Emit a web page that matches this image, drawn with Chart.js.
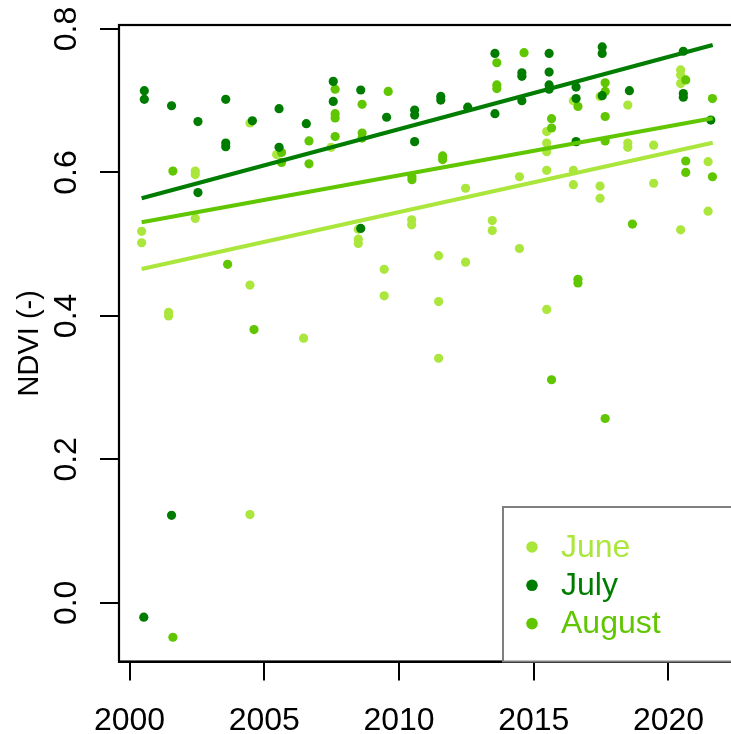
<!DOCTYPE html>
<html>
<head>
<meta charset="utf-8">
<script src="https://cdn.jsdelivr.net/npm/chart.js@4.4.1/dist/chart.umd.min.js"></script>
<style>
  html, body { margin: 0; padding: 0; overflow: hidden; background: #fff; }
  canvas { display: block; }
</style>
</head>
<body>
<canvas id="ndvi" width="750" height="734"></canvas>
<script>
const juneDates = [2000.45, 2000.45, 2001.45, 2001.45, 2002.44, 2002.44, 2002.44, 2004.47, 2004.47, 2004.47,
  2005.46, 2006.46, 2007.48, 2008.49, 2008.49, 2008.49, 2009.45, 2009.45, 2010.47, 2010.47,
  2011.47, 2011.47, 2011.47, 2012.47, 2012.47, 2013.46, 2013.46, 2014.47, 2014.47,
  2015.48, 2015.48, 2015.48, 2015.48, 2015.48, 2016.47, 2016.47, 2016.47, 2017.46, 2017.46, 2017.46,
  2018.49, 2018.49, 2018.49, 2019.45, 2019.45, 2020.45, 2020.45, 2020.45, 2020.45, 2021.47, 2021.47];
const juneNdvi = [0.518, 0.502, 0.405, 0.400, 0.602, 0.597, 0.536, 0.669, 0.443, 0.123,
  0.625, 0.369, 0.635, 0.521, 0.507, 0.501, 0.465, 0.428, 0.534, 0.527,
  0.484, 0.420, 0.341, 0.578, 0.475, 0.533, 0.519, 0.594, 0.494,
  0.657, 0.641, 0.629, 0.603, 0.409, 0.700, 0.603, 0.583, 0.706, 0.581, 0.564,
  0.694, 0.641, 0.635, 0.638, 0.585, 0.743, 0.736, 0.724, 0.520, 0.615, 0.546];

const julyDates = [2000.55, 2000.55, 2000.53, 2001.56, 2001.56, 2002.54, 2002.54, 2003.57, 2003.57, 2003.57,
  2004.56, 2005.55, 2005.55, 2006.56, 2007.56, 2007.56, 2008.58, 2008.58, 2009.54,
  2010.58, 2010.58, 2010.58, 2011.55, 2011.55, 2012.55, 2013.56, 2013.56, 2014.56, 2014.56, 2014.56,
  2015.57, 2015.57, 2015.57, 2015.57, 2016.57, 2016.57, 2016.57, 2017.54, 2017.54, 2017.54,
  2018.55, 2020.55, 2020.55, 2020.55, 2021.57];
const julyNdvi = [0.714, 0.702, -0.020, 0.693, 0.122, 0.671, 0.572, 0.702, 0.641, 0.636,
  0.672, 0.689, 0.635, 0.668, 0.727, 0.699, 0.715, 0.522, 0.677,
  0.687, 0.680, 0.643, 0.706, 0.701, 0.691, 0.766, 0.682, 0.739, 0.734, 0.700,
  0.766, 0.740, 0.722, 0.716, 0.719, 0.703, 0.643, 0.775, 0.766, 0.707,
  0.714, 0.769, 0.710, 0.705, 0.673];

const augustDates = [2001.61, 2001.61, 2003.64, 2004.62, 2005.64, 2005.64, 2006.66, 2006.66,
  2007.63, 2007.63, 2007.63, 2007.63, 2008.63, 2008.63, 2008.63, 2009.60, 2010.48, 2010.48,
  2011.62, 2011.62, 2013.63, 2013.63, 2013.63, 2014.64, 2015.66, 2015.66, 2015.66,
  2016.64, 2016.64, 2016.64, 2017.65, 2017.65, 2017.65, 2017.65, 2017.65, 2018.66,
  2020.64, 2020.64, 2020.64, 2021.63, 2021.63];
const augustNdvi = [0.602, -0.048, 0.472, 0.381, 0.628, 0.614, 0.644, 0.612,
  0.716, 0.682, 0.676, 0.650, 0.695, 0.655, 0.648, 0.713, 0.594, 0.590,
  0.623, 0.618, 0.753, 0.722, 0.717, 0.767, 0.675, 0.662, 0.311,
  0.692, 0.451, 0.446, 0.725, 0.713, 0.678, 0.644, 0.257, 0.528,
  0.729, 0.616, 0.600, 0.703, 0.594];

// linear trends, start/end values
const trendDates = [2000.45, 2021.64];
const juneTrend = [0.4655, 0.6415];
const julyTrend = [0.5640, 0.7777];
const augustTrend = [0.5306, 0.6755];

const months = ["June", "July", "August"];
const monthColors = ["#AAE63C", "#007D00", "#5FC600"];
const yearTicks = [2000, 2005, 2010, 2015, 2020];
const ndviTicks = [0.0, 0.2, 0.4, 0.6, 0.8];

const FONT = "'Liberation Sans', Arial, sans-serif";

function pts(xs, ys) {
  return xs.map((x, i) => ({ x: x, y: ys[i] }));
}

function pointSet(i, xs, ys, order) {
  return {
    label: months[i],
    data: pts(xs, ys),
    backgroundColor: monthColors[i],
    borderColor: monthColors[i],
    borderWidth: 0,
    pointRadius: 4.6,
    pointHoverRadius: 4.6,
    order: order,
  };
}

function trendSet(i, ys) {
  return {
    label: months[i] + " trend",
    data: pts(trendDates, ys),
    showLine: true,
    borderColor: monthColors[i],
    borderWidth: 4,
    pointRadius: 0,
    fill: false,
    order: 0,
  };
}

// R-like box and bottom-right legend
const boxAndLegend = {
  id: "boxAndLegend",
  afterDraw(chart) {
    const ctx = chart.ctx;
    const a = chart.chartArea;
    ctx.save();
    ctx.strokeStyle = "#000";
    ctx.lineWidth = 2.2;
    ctx.strokeRect(a.left, a.top, a.right - a.left, a.bottom - a.top);

    const lx = 503, ly = 507;
    ctx.fillStyle = "#fff";
    ctx.fillRect(lx, ly, a.right - lx, a.bottom - ly);
    ctx.strokeStyle = "#7f7f7f";
    ctx.lineWidth = 2;
    ctx.strokeRect(lx, ly, a.right + 10 - lx, a.bottom - ly);

    ctx.font = "32px " + FONT;
    ctx.textBaseline = "middle";
    ctx.textAlign = "left";
    months.forEach((m, i) => {
      const cy = ly + 40 + i * 38.3;
      ctx.fillStyle = monthColors[i];
      ctx.beginPath();
      ctx.arc(lx + 29, cy, 5.8, 0, Math.PI * 2);
      ctx.fill();
      ctx.fillText(m, lx + 58, cy + 1);
    });
    ctx.restore();
  },
};

function noEdgePadding(s) {
  s.paddingTop = 0;
  s.paddingBottom = 0;
  s.paddingLeft = 0;
  s.paddingRight = 0;
}

document.addEventListener("DOMContentLoaded", () => {
  const ctx = document.getElementById("ndvi").getContext("2d");

  new Chart(ctx, {
    type: "scatter",
    data: {
      datasets: [
        trendSet(0, juneTrend),
        trendSet(1, julyTrend),
        trendSet(2, augustTrend),
        pointSet(0, juneDates, juneNdvi, 3),
        pointSet(2, augustDates, augustNdvi, 2),
        pointSet(1, julyDates, julyNdvi, 1),
      ],
    },
    options: {
      responsive: false,
      animation: false,
      devicePixelRatio: 1,
      layout: { padding: { left: 0, right: 13, top: 25, bottom: 0 } },
      plugins: {
        legend: { display: false },
        tooltip: { enabled: false },
      },
      scales: {
        x: {
          type: "linear",
          min: 1999.61,
          max: 2022.542,
          afterBuildTicks: (s) => { s.ticks = yearTicks.map((v) => ({ value: v })); },
          afterFit: (s) => { s.height = 72.5; noEdgePadding(s); },
          border: { display: true, color: "#000", width: 2 },
          grid: { drawOnChartArea: false, drawTicks: true, tickLength: 19, color: "#000", lineWidth: 2 },
          ticks: {
            color: "#000",
            font: { family: FONT, size: 32 },
            padding: 21,
            maxRotation: 0,
            autoSkip: false,
            callback: (v) => String(v),
          },
        },
        y: {
          type: "linear",
          min: -0.0818,
          max: 0.8056,
          afterBuildTicks: (s) => { s.ticks = ndviTicks.map((v) => ({ value: v })); },
          afterFit: (s) => { s.width = 119; noEdgePadding(s); },
          border: { display: true, color: "#000", width: 2 },
          grid: { drawOnChartArea: false, drawTicks: true, tickLength: 19, color: "#000", lineWidth: 2 },
          ticks: {
            color: "#000",
            font: { family: FONT, size: 32 },
            padding: 11,
            minRotation: 90,
            maxRotation: 90,
            crossAlign: "center",
            autoSkip: false,
            callback: (v) => v.toFixed(1),
          },
          title: {
            display: true,
            text: "NDVI (-)",
            color: "#000",
            font: { family: FONT, size: 29 },
            padding: { top: 13, bottom: 0 },
          },
        },
      },
    },
    plugins: [boxAndLegend],
  });
});
</script>
</body>
</html>
